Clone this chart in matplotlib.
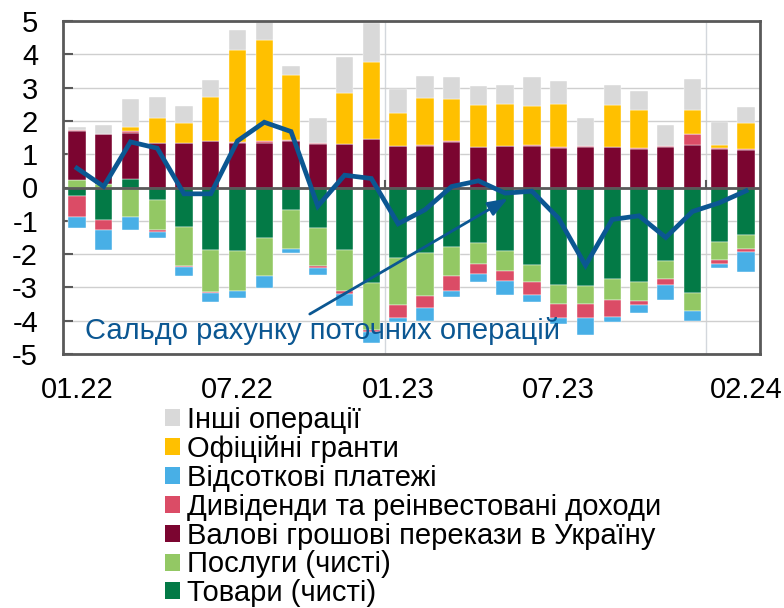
import matplotlib
matplotlib.use("Agg")
import matplotlib.pyplot as plt
import matplotlib.patches as mpatches
import numpy as np

plt.rcParams['font.family'] = ['Liberation Sans', 'DejaVu Sans']

months = ["01.22", "02.22", "03.22", "04.22", "05.22", "06.22", "07.22", "08.22", "09.22",
          "10.22", "11.22", "12.22", "01.23", "02.23", "03.23", "04.23", "05.23", "06.23",
          "07.23", "08.23", "09.23", "10.23", "11.23", "12.23", "01.24", "02.24"]
tick_labels = ["01.22", "07.22", "01.23", "07.23", "02.24"]

goods = [-0.27, -0.98, 0.26, -0.39, -1.20, -1.88, -1.92, -1.53, -0.67, -1.21, -1.88, -2.86, -2.13,
         -1.96, -1.80, -1.68, -1.92, -2.32, -2.94, -2.97, -2.76, -2.84, -2.21, -3.18, -1.65, -1.44]
services = [0.22, 0.10, -0.88, -0.90, -1.16, -1.26, -1.20, -1.13, -1.17, -1.16, -1.24, -1.42, -1.41,
            -1.30, -0.86, -0.62, -0.59, -0.52, -0.57, -0.54, -0.63, -0.57, -0.55, -0.52, -0.54, -0.41]
remittances = [1.48, 1.52, 1.38, 1.35, 1.35, 1.39, 1.35, 1.35, 1.39, 1.31, 1.32, 1.47, 1.24,
               1.25, 1.38, 1.22, 1.25, 1.25, 1.20, 1.22, 1.22, 1.17, 1.22, 1.28, 1.17, 1.13]
dividends_in = [0.02, 0.0, 0.07, 0.0, 0.0, 0.0, 0.03, 0.06, 0.05, 0.02, 0.0, 0.0, 0.0,
                0.03, 0.03, 0.0, 0.0, 0.03, 0.02, 0.03, 0.0, 0.02, 0.02, 0.33, 0.03, 0.03]
dividends_out = [-0.61, -0.31, 0.0, -0.04, -0.03, -0.04, 0.0, 0.0, 0.0, -0.06, -0.08, -0.05, -0.39,
                 -0.37, -0.46, -0.31, -0.31, -0.39, -0.42, -0.42, -0.49, -0.12, -0.17, 0.0, -0.12, -0.09]
interest = [-0.33, -0.60, -0.41, -0.20, -0.28, -0.26, -0.20, -0.35, -0.12, -0.20, -0.36, -0.35, -0.12,
            -0.38, -0.17, -0.24, -0.42, -0.20, -0.18, -0.50, -0.17, -0.24, -0.45, -0.30, -0.12, -0.61]
grants = [0.0, 0.0, 0.12, 0.75, 0.58, 1.32, 2.75, 3.02, 1.95, 0.0, 1.51, 2.29, 0.99,
          1.40, 1.24, 1.25, 1.25, 1.17, 1.28, 0.0, 1.25, 1.13, 0.0, 0.71, 0.07, 0.79]
other = [0.10, 0.27, 0.84, 0.62, 0.53, 0.52, 0.60, 0.55, 0.25, 0.75, 1.10, 1.17, 0.73,
         0.67, 0.67, 0.58, 0.58, 0.87, 0.69, 0.83, 0.61, 0.58, 0.63, 0.94, 0.71, 0.48]
balance = [0.58, 0.03, 1.37, 1.18, -0.19, -0.19, 1.40, 1.96, 1.68, -0.56, 0.37, 0.27, -1.09,
           -0.67, 0.03, 0.20, -0.17, -0.11, -0.93, -2.34, -0.96, -0.85, -1.50, -0.72, -0.46, -0.10]

labels = {
    "other": "Інші операції",
    "grants": "Офіційні гранти",
    "interest": "Відсоткові платежі",
    "div": "Дивіденди та реінвестовані доходи",
    "remit": "Валові грошові перекази в Україну",
    "services": "Послуги (чисті)",
    "goods": "Товари (чисті)",
}
colors = {
    "other": "#d9d9d9",
    "grants": "#ffc000",
    "interest": "#48afe6",
    "div": "#db4c66",
    "remit": "#7b0530",
    "services": "#93c864",
    "goods": "#037a46",
}
line_color = "#0b5792"
FS = 21

fig = plt.figure(figsize=(7.84, 6.08), dpi=100)
ax = fig.add_axes([63 / 784, 1 - 354 / 608, 697 / 784, 333 / 608])

x = np.arange(len(months))
width = 0.65
pos_bottom = np.zeros(len(months))
neg_bottom = np.zeros(len(months))

stack = [("goods", goods), ("services", services), ("remit", remittances),
         ("div", dividends_in), ("div", dividends_out), ("interest", interest),
         ("grants", grants), ("other", other)]
for key, vals in stack:
    v = np.array(vals, dtype=float)
    bottom = np.where(v >= 0, pos_bottom, neg_bottom)
    ax.bar(x, v, width=width, bottom=bottom, color=colors[key],
           edgecolor="white", linewidth=0.3, zorder=2)
    pos_bottom = pos_bottom + np.where(v >= 0, v, 0)
    neg_bottom = neg_bottom + np.where(v < 0, v, 0)

ax.plot(x, balance, color=line_color, lw=3.4, zorder=4, solid_joinstyle="miter")

ax.set_xlim(-0.52, 25.52)
ax.set_ylim(-5, 5)
ax.set_yticks(np.arange(-5, 6, 1))
ax.set_yticklabels([str(v) for v in range(-5, 6)])
ax.yaxis.grid(True, color="#cfcfcf", lw=1.0, zorder=0)
ax.set_axisbelow(True)
for xv in [11.5, 23.5]:
    ax.axvline(xv, color="#d3d7dc", lw=1.0, zorder=0)
    ax.plot([xv, xv], [0, 0.2], color="#595959", lw=1.5, zorder=3)
ax.axhline(0, color="#595959", lw=2.0, zorder=3)

tick_pos = [months.index(t) for t in tick_labels]
ax.set_xticks(tick_pos)
ax.set_xticklabels(tick_labels)
ax.tick_params(axis="x", length=0, pad=16, labelsize=FS)
ax.tick_params(axis="y", direction="in", length=7, width=1.5, color="#595959",
               pad=18, labelsize=FS)
for s in ax.spines.values():
    s.set_color("#595959")
    s.set_linewidth(2.0)

ax.text(0.3, -4.31, "Сальдо рахунку поточних операцій", color=line_color,
        fontsize=FS, va="center", ha="left", zorder=5)
ax.annotate("", xy=(16.1, -0.33), xytext=(8.7, -3.8),
            arrowprops=dict(arrowstyle="-|>,head_length=1.2,head_width=0.45",
                            color=line_color, lw=2.0, shrinkA=0, shrinkB=0), zorder=5)

order = ["other", "grants", "interest", "div", "remit", "services", "goods"]
handles = [mpatches.Patch(facecolor=colors[k], edgecolor="none", label=labels[k]) for k in order]
fig.legend(handles=handles, loc="upper left", bbox_to_anchor=(165 / 784, 1 - 406 / 608),
           frameon=False, fontsize=FS, borderpad=0, borderaxespad=0,
           handlelength=0.52, handleheight=0.52, handletextpad=0.22, labelspacing=0.03)

fig.savefig("out.png", dpi=100)
